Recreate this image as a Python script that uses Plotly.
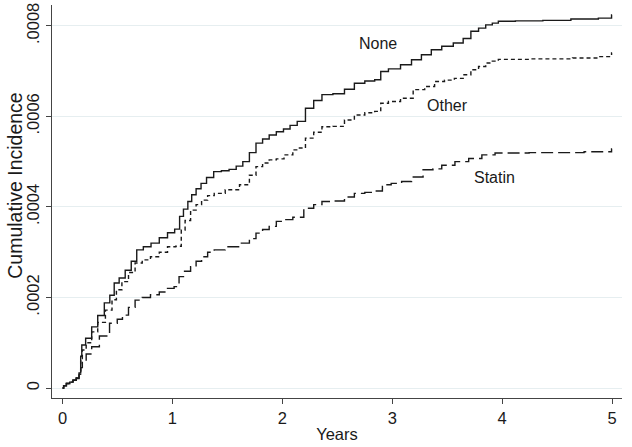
import plotly.graph_objects as go

# Values in units of 1e-4 (cumulative incidence)
none_t = [0, 0.02, 0.05, 0.08, 0.11, 0.14, 0.16, 0.17, 0.18, 0.24, 0.29, 0.35, 0.41, 0.45, 0.49, 0.54, 0.60, 0.65, 0.70, 0.77, 0.84, 0.92, 0.99, 1.05, 1.08, 1.12, 1.16, 1.19, 1.24, 1.28, 1.34, 1.41, 1.48, 1.55, 1.61, 1.67, 1.73, 1.79, 1.85, 1.91, 1.98, 2.04, 2.10, 2.17, 2.25, 2.32, 2.40, 2.52, 2.61, 2.70, 2.80, 2.88, 2.91, 3.02, 3.13, 3.22, 3.31, 3.40, 3.50, 3.61, 3.68, 3.75, 3.82, 3.88, 3.94, 3.99, 4.25, 4.49, 4.76, 4.99, 5.0]
none_v = [0, 0.05, 0.10, 0.13, 0.18, 0.22, 0.33, 0.70, 0.95, 1.10, 1.35, 1.60, 1.88, 2.05, 2.32, 2.43, 2.60, 2.80, 3.05, 3.12, 3.20, 3.32, 3.43, 3.51, 3.79, 3.95, 4.12, 4.27, 4.40, 4.52, 4.65, 4.78, 4.80, 4.83, 4.90, 5.00, 5.20, 5.41, 5.50, 5.59, 5.66, 5.72, 5.80, 5.89, 6.18, 6.35, 6.48, 6.50, 6.60, 6.73, 6.78, 6.81, 6.99, 7.05, 7.14, 7.25, 7.36, 7.47, 7.55, 7.62, 7.72, 7.88, 7.95, 8.02, 8.06, 8.10, 8.11, 8.12, 8.15, 8.17, 8.24]

other_t = [0, 0.02, 0.05, 0.08, 0.11, 0.14, 0.16, 0.17, 0.19, 0.24, 0.29, 0.35, 0.43, 0.47, 0.51, 0.57, 0.63, 0.69, 0.76, 0.84, 0.92, 0.99, 1.07, 1.09, 1.14, 1.19, 1.24, 1.29, 1.35, 1.41, 1.55, 1.67, 1.73, 1.79, 1.85, 1.91, 1.98, 2.05, 2.14, 2.17, 2.25, 2.32, 2.40, 2.52, 2.61, 2.70, 2.80, 2.88, 2.91, 3.02, 3.13, 3.25, 3.34, 3.43, 3.52, 3.61, 3.68, 3.75, 3.82, 3.88, 3.94, 3.99, 4.52, 4.76, 4.99, 5.0]
other_v = [0, 0.05, 0.10, 0.13, 0.18, 0.22, 0.30, 0.65, 0.84, 1.00, 1.24, 1.45, 1.72, 1.95, 2.17, 2.35, 2.55, 2.76, 2.83, 2.90, 3.00, 3.12, 3.13, 3.49, 3.70, 3.93, 4.05, 4.15, 4.25, 4.30, 4.38, 4.49, 4.70, 4.89, 4.97, 5.04, 5.06, 5.15, 5.26, 5.30, 5.52, 5.65, 5.77, 5.78, 5.92, 6.03, 6.08, 6.11, 6.29, 6.33, 6.40, 6.59, 6.66, 6.77, 6.80, 6.84, 6.92, 7.03, 7.10, 7.18, 7.22, 7.26, 7.27, 7.29, 7.32, 7.40]

statin_t = [0, 0.02, 0.05, 0.08, 0.11, 0.14, 0.16, 0.17, 0.19, 0.24, 0.29, 0.38, 0.475, 0.52, 0.57, 0.63, 0.69, 0.76, 0.84, 0.92, 0.99, 1.04, 1.08, 1.14, 1.19, 1.24, 1.29, 1.35, 1.41, 1.55, 1.67, 1.73, 1.79, 1.85, 1.91, 1.98, 2.05, 2.14, 2.25, 2.32, 2.40, 2.52, 2.61, 2.70, 2.80, 2.88, 2.94, 3.04, 3.13, 3.22, 3.34, 3.40, 3.50, 3.64, 3.75, 3.88, 3.99, 4.5, 4.99, 5.0]
statin_v = [0, 0.05, 0.10, 0.13, 0.17, 0.21, 0.28, 0.45, 0.58, 0.75, 0.91, 1.15, 1.43, 1.52, 1.61, 1.78, 1.94, 2.00, 2.06, 2.12, 2.20, 2.24, 2.46, 2.58, 2.68, 2.80, 2.90, 3.00, 3.05, 3.12, 3.20, 3.30, 3.42, 3.50, 3.57, 3.68, 3.72, 3.77, 3.97, 4.05, 4.12, 4.13, 4.22, 4.30, 4.32, 4.35, 4.49, 4.52, 4.56, 4.66, 4.82, 4.84, 4.92, 5.00, 5.07, 5.15, 5.19, 5.20, 5.22, 5.28]

x_ticks = [0, 1, 2, 3, 4, 5]
y_ticks = [0, 0.0002, 0.0004, 0.0006, 0.0008]
y_tick_labels = ["0", ".0002", ".0004", ".0006", ".0008"]

FONT = "Liberation Sans, Arial, sans-serif"
INK = "#1a1a1a"

fig = go.Figure()
series = [
    ("None", none_t, none_v, "solid"),
    ("Other", other_t, other_v, "4px,3px"),
    ("Statin", statin_t, statin_v, "12px,5px"),
]
for name, t, v, dash in series:
    fig.add_trace(go.Scatter(
        x=t, y=[val * 1e-4 for val in v], mode="lines", name=name,
        line=dict(color=INK, width=1.4, dash=dash, shape="hvh"),
    ))

labels = [("None", 2.87, 0.000762), ("Other", 3.50, 0.000625), ("Statin", 3.93, 0.000464)]
for text, ax, ay in labels:
    fig.add_annotation(x=ax, y=ay, text=text, showarrow=False,
                       font=dict(family=FONT, size=16, color=INK))

# y-axis title (placed as rotated text to match the reference's off-centre position)
fig.add_annotation(text="Cumulative Incidence", xref="paper", yref="paper",
                   x=-0.065, y=0.54, xanchor="center", yanchor="middle",
                   textangle=-90, showarrow=False,
                   font=dict(family=FONT, size=19.5, color=INK))

fig.update_layout(
    width=632, height=447,
    margin=dict(l=52, r=10, t=5, b=49),
    paper_bgcolor="white", plot_bgcolor="white",
    showlegend=False,
    font=dict(family=FONT, size=16, color=INK),
)
fig.update_xaxes(
    range=[-0.096, 5.09], tickvals=x_ticks, ticks="outside", ticklen=5,
    tickcolor="#444", showline=True, linecolor="#444", linewidth=1,
    showgrid=False, zeroline=False, automargin=False,
    title=dict(text="Years", font=dict(family=FONT, size=16.5, color=INK), standoff=2),
    tickfont=dict(family=FONT, size=16.5, color=INK),
)
fig.update_yaxes(
    range=[-0.0000221, 0.000846], tickvals=y_ticks, ticktext=y_tick_labels,
    tickangle=-90, ticks="outside", ticklen=5, tickcolor="#444",
    showline=True, linecolor="#444", linewidth=1,
    showgrid=True, gridcolor="#e6eef0", gridwidth=1, zeroline=False, automargin=False,
    tickfont=dict(family=FONT, size=16.5, color=INK),
)

fig.write_html("out.html", config={"displayModeBar": False},
               post_script="document.body.style.margin='0';")
